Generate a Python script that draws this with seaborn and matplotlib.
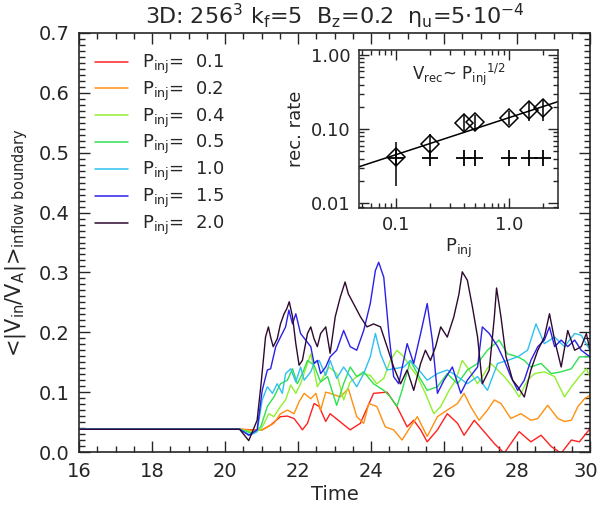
import matplotlib
matplotlib.use("Agg")
import numpy as np
import pandas as pd
import matplotlib.pyplot as plt
import seaborn as sns
from matplotlib.lines import Line2D
from matplotlib.transforms import ScaledTranslation
from matplotlib.ticker import MultipleLocator, FixedLocator, NullFormatter

sns.set_style("ticks")
plt.rcParams["font.family"] = ["DejaVu Sans"]
plt.rcParams["mathtext.default"] = "regular"

# ---- main panel data: <|V_in/V_A|> vs time for each injection power ----
p_labels = ["0.1", "0.2", "0.4", "0.5", "1.0", "1.5", "2.0"]
colors = ["#ff2020", "#ff9010", "#90f030", "#30e050", "#30c0f0", "#2a20e8", "#2e0a30"]

t_01 = [16.0, 20.4, 20.8, 21.02, 21.25, 21.52, 21.71, 21.89, 22.03, 22.12, 22.26, 22.44, 22.58, 22.76,
        22.88, 23.43, 23.71, 24.07, 24.44, 24.71, 24.99, 25.17, 25.36, 25.54, 25.82, 26.09, 26.37, 26.55,
        26.83, 27.10, 27.38, 27.65, 27.83, 28.06, 28.38, 28.66, 28.94, 29.21, 29.49, 29.71, 30.0]
v_01 = [0.038, 0.038, 0.037, 0.037, 0.045, 0.059, 0.060, 0.056, 0.045, 0.037, 0.048, 0.081, 0.076, 0.051,
        0.064, 0.037, 0.048, 0.098, 0.100, 0.076, 0.042, 0.053, 0.037, 0.017, 0.037, 0.064, 0.048, 0.028,
        0.053, 0.034, 0.014, -0.002, 0.014, 0.034, 0.017, 0.028, 0.009, -0.002, 0.020, 0.017, 0.039]

t_02 = [16.0, 20.4, 20.8, 21.02, 21.34, 21.52, 21.71, 21.89, 22.03, 22.17, 22.35, 22.49, 22.62, 22.76,
        22.88, 23.16, 23.38, 23.61, 23.80, 23.94, 24.16, 24.39, 24.62, 24.85, 25.08, 25.27, 25.54, 25.82,
        26.09, 26.37, 26.55, 26.73, 26.96, 27.19, 27.38, 27.56, 27.83, 28.11, 28.38, 28.57, 28.84, 29.12,
        29.30, 29.49, 29.67, 29.85, 30.0]
v_02 = [0.038, 0.038, 0.036, 0.037, 0.048, 0.064, 0.070, 0.064, 0.084, 0.098, 0.089, 0.098, 0.070, 0.100,
        0.098, 0.092, 0.106, 0.059, 0.048, 0.081, 0.076, 0.042, 0.037, 0.020, 0.042, 0.059, 0.026, 0.059,
        0.070, 0.081, 0.098, 0.076, 0.053, 0.070, 0.087, 0.081, 0.056, 0.064, 0.053, 0.056, 0.078, 0.056,
        0.051, 0.053, 0.076, 0.089, 0.095]

t_04 = [16.0, 20.4, 20.75, 20.98, 21.11, 21.20, 21.34, 21.52, 21.66, 21.80, 21.94, 22.07, 22.21, 22.35,
        22.44, 22.53, 22.67, 22.85, 23.06, 23.25, 23.43, 23.61, 23.80, 23.98, 24.16, 24.35, 24.53, 24.71,
        24.90, 25.08, 25.27, 25.49, 25.72, 25.91, 26.14, 26.32, 26.50, 26.69, 26.92, 27.10, 27.28, 27.47,
        27.65, 27.88, 28.06, 28.29, 28.48, 28.75, 29.03, 29.30, 29.49, 29.71, 29.90, 30.0]
v_04 = [0.038, 0.038, 0.033, 0.037, 0.053, 0.064, 0.059, 0.076, 0.087, 0.112, 0.098, 0.114, 0.139, 0.164,
        0.137, 0.109, 0.123, 0.142, 0.131, 0.087, 0.117, 0.126, 0.131, 0.128, 0.114, 0.123, 0.153, 0.170,
        0.159, 0.142, 0.126, 0.098, 0.064, 0.076, 0.103, 0.120, 0.153, 0.137, 0.114, 0.131, 0.148, 0.137,
        0.126, 0.109, 0.092, 0.120, 0.131, 0.134, 0.126, 0.092, 0.109, 0.126, 0.139, 0.126]

t_05 = [16.0, 20.4, 20.75, 20.98, 21.16, 21.34, 21.52, 21.71, 21.85, 21.98, 22.12, 22.26, 22.44, 22.62,
        22.81, 23.06, 23.25, 23.43, 23.61, 23.80, 24.07, 24.35, 24.53, 24.71, 24.85, 25.08, 25.27, 25.54,
        25.82, 26.09, 26.37, 26.64, 26.92, 27.19, 27.51, 27.74, 28.02, 28.20, 28.38, 28.66, 28.94, 29.21,
        29.49, 29.71, 30.0]
v_05 = [0.038, 0.038, 0.031, 0.042, 0.076, 0.092, 0.114, 0.120, 0.139, 0.114, 0.131, 0.153, 0.145, 0.117,
        0.126, 0.078, 0.114, 0.142, 0.126, 0.134, 0.114, 0.103, 0.092, 0.076, 0.103, 0.153, 0.131, 0.103,
        0.109, 0.131, 0.114, 0.137, 0.148, 0.170, 0.187, 0.164, 0.159, 0.153, 0.142, 0.148, 0.131, 0.134,
        0.139, 0.159, 0.159]

t_10 = [16.0, 20.4, 20.7, 20.88, 21.02, 21.16, 21.30, 21.43, 21.57, 21.66, 21.80, 21.94, 22.07, 22.17,
        22.35, 22.44, 22.58, 22.76, 22.88, 23.06, 23.25, 23.43, 23.61, 23.80, 23.98, 24.12, 24.26, 24.44,
        24.62, 24.90, 25.08, 25.31, 25.54, 25.82, 26.09, 26.37, 26.64, 26.92, 27.19, 27.47, 27.74, 28.02,
        28.29, 28.52, 28.75, 29.03, 29.30, 29.58, 29.76, 30.0]
v_10 = [0.038, 0.038, 0.028, 0.034, 0.087, 0.109, 0.098, 0.114, 0.098, 0.131, 0.139, 0.117, 0.142, 0.120,
        0.134, 0.148, 0.153, 0.128, 0.153, 0.123, 0.142, 0.126, 0.109, 0.131, 0.159, 0.198, 0.164, 0.137,
        0.139, 0.142, 0.153, 0.137, 0.120, 0.131, 0.137, 0.126, 0.114, 0.126, 0.103, 0.148, 0.153, 0.159,
        0.170, 0.214, 0.181, 0.192, 0.176, 0.198, 0.195, 0.170]

t_15 = [16.0, 20.4, 20.65, 20.88, 21.02, 21.16, 21.25, 21.39, 21.52, 21.66, 21.75, 21.85, 21.94, 22.07,
        22.21, 22.35, 22.44, 22.53, 22.62, 22.76, 22.88, 23.06, 23.25, 23.43, 23.61, 23.80, 23.98, 24.12,
        24.21, 24.35, 24.49, 24.62, 24.76, 24.99, 25.17, 25.36, 25.54, 25.68, 25.82, 26.00, 26.23, 26.46,
        26.64, 26.92, 27.05, 27.24, 27.47, 27.65, 27.83, 28.02, 28.20, 28.38, 28.57, 28.75, 28.89, 29.03,
        29.21, 29.39, 29.58, 29.76, 30.0]
v_15 = [0.038, 0.038, 0.028, 0.037, 0.103, 0.137, 0.139, 0.176, 0.192, 0.209, 0.237, 0.214, 0.231, 0.198,
        0.187, 0.176, 0.148, 0.153, 0.131, 0.142, 0.159, 0.170, 0.203, 0.176, 0.170, 0.203, 0.248, 0.303,
        0.317, 0.292, 0.198, 0.126, 0.114, 0.181, 0.148, 0.198, 0.248, 0.187, 0.098, 0.120, 0.142, 0.098,
        0.120, 0.142, 0.209, 0.198, 0.176, 0.153, 0.126, 0.103, 0.120, 0.153, 0.176, 0.187, 0.209, 0.176,
        0.187, 0.176, 0.187, 0.170, 0.159]

t_20 = [16.0, 20.4, 20.65, 20.88, 20.98, 21.05, 21.11, 21.19, 21.25, 21.32, 21.43, 21.52, 21.62, 21.69,
        21.76, 21.85, 21.94, 22.03, 22.12, 22.26, 22.35, 22.44, 22.53, 22.62, 22.76, 22.88, 23.02, 23.16,
        23.29, 23.38, 23.52, 23.71, 23.89, 24.07, 24.26, 24.44, 24.62, 24.81, 24.99, 25.17, 25.36, 25.49,
        25.63, 25.77, 25.91, 26.09, 26.27, 26.41, 26.50, 26.64, 26.78, 26.92, 27.05, 27.24, 27.38, 27.44,
        27.56, 27.70, 27.88, 28.02, 28.20, 28.38, 28.57, 28.75, 28.89, 29.03, 29.21, 29.39, 29.58, 29.76,
        29.90, 30.0]
v_20 = [0.038, 0.038, 0.019, 0.053, 0.109, 0.153, 0.192, 0.209, 0.192, 0.176, 0.189, 0.214, 0.231, 0.239,
        0.251, 0.226, 0.181, 0.145, 0.153, 0.198, 0.209, 0.189, 0.176, 0.198, 0.209, 0.165, 0.226, 0.259,
        0.284, 0.264, 0.248, 0.226, 0.209, 0.214, 0.209, 0.176, 0.142, 0.114, 0.137, 0.103, 0.148, 0.170,
        0.153, 0.176, 0.209, 0.192, 0.226, 0.264, 0.301, 0.287, 0.242, 0.192, 0.114, 0.137, 0.226, 0.274,
        0.226, 0.159, 0.120, 0.109, 0.092, 0.137, 0.170, 0.192, 0.231, 0.187, 0.142, 0.203, 0.170, 0.176,
        0.198, 0.170]

times = [t_01, t_02, t_04, t_05, t_10, t_15, t_20]
values = [v_01, v_02, v_04, v_05, v_10, v_15, v_20]

# ---- inset data: reconnection rate vs injected power ----
p_inj = [0.1, 0.2, 0.4, 0.5, 1.0, 1.5, 2.0]
rec_rate = [0.042, 0.063, 0.12, 0.124, 0.141, 0.18, 0.19]
rec_lo = [0.017, 0.044, 0.088, 0.095, 0.113, 0.13, 0.13]
rec_hi = [0.067, 0.085, 0.155, 0.155, 0.175, 0.23, 0.245]
base_rate = [0.041, 0.041, 0.041, 0.041, 0.041, 0.041, 0.041]
fit_x = [0.047, 2.7]
fit_y = [0.031, 0.235]

frames = []
for lab, t, v in zip(p_labels, times, values):
    frames.append(pd.DataFrame({"Time": t, "v": v, "P": lab}))
df = pd.concat(frames, ignore_index=True)

fig = plt.figure(figsize=(6, 5.12), dpi=100)
ax = fig.add_axes([79 / 600, 1 - 452 / 512, 511 / 600, 419 / 512])

sns.lineplot(data=df, x="Time", y="v", hue="P", hue_order=p_labels,
             palette=dict(zip(p_labels, colors)), estimator=None, sort=False,
             linewidth=1.0, legend=False, ax=ax)

ax.set_xlim(16, 30)
ax.set_ylim(0, 0.7)
ax.xaxis.set_major_locator(FixedLocator([16, 18, 20, 22, 24, 26, 28, 30]))
ax.xaxis.set_minor_locator(MultipleLocator(0.5))
ax.yaxis.set_major_locator(MultipleLocator(0.1))
ax.yaxis.set_minor_locator(MultipleLocator(0.01))
ax.yaxis.set_major_formatter(plt.FuncFormatter(lambda v, _: f"{v:.1f}"))
ax.tick_params(which="both", direction="in", top=True, right=True, labelsize=14, width=1)
ax.tick_params(which="major", length=8, pad=7)
ax.tick_params(which="minor", length=4)
for s in ax.spines.values():
    s.set_linewidth(1.2)

# keep the last x label ("30") inside the figure edge
last = ax.xaxis.get_major_ticks()[-1].label1
last.set_transform(last.get_transform() + ScaledTranslation(-3 / 72, 0, fig.dpi_scale_trans))

ax.set_xlabel("Time", fontsize=14, labelpad=3)
ax.set_ylabel(r"<|V$_{in}$/V$_A$|>$_{inflow\ boundary}$", fontsize=15, labelpad=6)
ax.set_title(r"3D: 256$^3$ k$_f$=5  B$_z$=0.2  $\eta_u$=5$\cdot$10$^{-4}$", fontsize=16, pad=6)

handles = [Line2D([], [], color=c, lw=1.1) for c in colors]
labels = [r"P$_{inj}$=  " + lab for lab in p_labels]
ax.legend(handles, labels, loc="upper left", bbox_to_anchor=(0.017, 0.97), frameon=False,
          fontsize=13, handlelength=1.85, handletextpad=0.78, labelspacing=0.2, borderaxespad=0)

# ---- inset ----
ins = fig.add_axes([359 / 600, 1 - 208 / 512, 199 / 600, 158 / 512])
ins.set_xscale("log")
ins.set_yscale("log")
sns.lineplot(x=fit_x, y=fit_y, color="black", linewidth=1.1, ax=ins)
yerr = [np.array(rec_rate) - np.array(rec_lo), np.array(rec_hi) - np.array(rec_rate)]
ins.errorbar(p_inj, rec_rate, yerr=yerr, fmt="D", mfc="none", mec="black", ms=9,
             ecolor="black", elinewidth=1.1, capsize=0, color="black", mew=1.1)
ins.plot(p_inj, base_rate, "+", color="black", ms=12, mew=1.3)
ins.set_xlim(0.047, 2.7)
ins.set_ylim(0.0086, 1.17)
ins.xaxis.set_major_locator(FixedLocator([0.1, 1.0]))
ins.set_xticklabels(["0.1", "1.0"])
ins.yaxis.set_major_locator(FixedLocator([0.01, 0.1, 1.0]))
ins.set_yticklabels(["0.01", "0.10", "1.00"])
ins.xaxis.set_minor_formatter(NullFormatter())
ins.yaxis.set_minor_formatter(NullFormatter())
ins.tick_params(which="both", direction="in", top=True, right=True, labelsize=13, width=1)
ins.tick_params(which="major", length=7, pad=6)
ins.tick_params(which="minor", length=3.5)
for s in ins.spines.values():
    s.set_linewidth(1.1)
ins.set_xlabel(r"P$_{inj}$", fontsize=13, labelpad=2)
ins.set_ylabel("rec. rate", fontsize=13, labelpad=4)
ins.text(0.5, 0.84, r"V$_{rec}$~ P$_{inj}$$^{1/2}$", transform=ins.transAxes,
         ha="center", va="center", fontsize=12)

fig.savefig("out.png", dpi=100)
